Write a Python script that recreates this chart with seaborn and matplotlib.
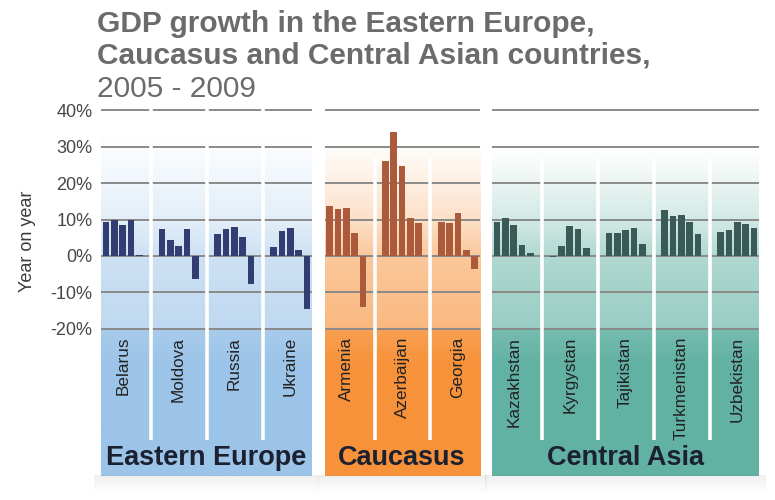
import numpy as np
import pandas as pd
import matplotlib
matplotlib.use("Agg")
import matplotlib.pyplot as plt
from matplotlib.colors import to_rgb
import seaborn as sns

# ---------------------------------------------------------------- data
years = [2005, 2006, 2007, 2008, 2009]
regions = ["Eastern Europe", "Caucasus", "Central Asia"]

eastern_europe = ["Belarus", "Moldova", "Russia", "Ukraine"]
caucasus = ["Armenia", "Azerbaijan", "Georgia"]
central_asia = ["Kazakhstan", "Kyrgystan", "Tajikistan", "Turkmenistan", "Uzbekistan"]

# real GDP growth, % year on year, 2005-2009
belarus = [9.2, 9.8, 8.4, 9.8, 0.2]
moldova = [7.3, 4.4, 2.8, 7.5, -6.4]
russia = [6.1, 7.3, 7.9, 5.3, -7.7]
ukraine = [2.4, 7.0, 7.7, 1.7, -14.7]
armenia = [13.6, 12.9, 13.3, 6.4, -14.1]
azerbaijan = [26.0, 34.1, 24.8, 10.4, 9.0]
georgia = [9.3, 9.1, 11.9, 1.7, -3.7]
kazakhstan = [9.4, 10.4, 8.5, 3.0, 0.9]
kyrgystan = [-0.2, 2.8, 8.3, 7.3, 2.1]
tajikistan = [6.4, 6.4, 7.2, 7.6, 3.2]
turkmenistan = [12.7, 11.0, 11.3, 9.4, 6.0]
uzbekistan = [6.7, 7.2, 9.3, 8.7, 7.8]

y_ticks = [40, 30, 20, 10, 0, -10, -20]
y_tick_labels = ["40%", "30%", "20%", "10%", "0%", "-10%", "-20%"]

# ---------------------------------------------------------------- styling
bar_colors = {"Eastern Europe": "#28377c", "Caucasus": "#bd5229", "Central Asia": "#355f5b"}
panel_colors = {"Eastern Europe": "#9cc4e8", "Caucasus": "#f7923a", "Central Asia": "#62b2a3"}
fade_top = {"Eastern Europe": 33, "Caucasus": 31, "Central Asia": 29}
separator_top = {"Eastern Europe": 42, "Caucasus": 27, "Central Asia": 27}

SLOT = 6.7        # distance between neighbouring countries (in bar steps)
PANEL_GAP = 2.7   # last bar of one region to first bar of the next
Y_TOP, Y_BOTTOM = 42, -60.5

groups = {
    "Eastern Europe": eastern_europe,
    "Caucasus": caucasus,
    "Central Asia": central_asia,
}
series = {
    "Belarus": belarus, "Moldova": moldova, "Russia": russia, "Ukraine": ukraine,
    "Armenia": armenia, "Azerbaijan": azerbaijan, "Georgia": georgia,
    "Kazakhstan": kazakhstan, "Kyrgystan": kyrgystan, "Tajikistan": tajikistan,
    "Turkmenistan": turkmenistan, "Uzbekistan": uzbekistan,
}

# ---------------------------------------------------------------- layout
rows = []
panels = []
origin = 0.0
for region in regions:
    countries = groups[region]
    for k, country in enumerate(countries):
        for j, yr in enumerate(years):
            rows.append({
                "region": region,
                "country": country,
                "year": yr,
                "pos": round(origin + k * SLOT + j, 3),
                "value": series[country][j],
            })
    last = origin + (len(countries) - 1) * SLOT + len(years) - 1
    panels.append((region, origin, last))
    origin = last + PANEL_GAP
df = pd.DataFrame(rows)

sns.set_theme(style="white")
plt.rcParams["font.family"] = ["Liberation Sans", "DejaVu Sans"]

fig = plt.figure(figsize=(7.75, 5.0), dpi=100, facecolor="white")
ax_left, ax_right = 101 / 775, 759 / 775
ax_top, ax_bottom = 1 - 103.1 / 500, 1 - 476.2 / 500
ax = fig.add_axes([ax_left, ax_bottom, ax_right - ax_left, ax_top - ax_bottom])
ax.set_facecolor("white")

# gradient panels behind each region
grid_y = np.linspace(Y_TOP, Y_BOTTOM, 600)
for region, first, last in panels:
    left, right = first - 0.6, last + 0.6
    ft = fade_top[region]
    t = np.interp(-grid_y,
                  [-Y_TOP, -ft, -10, 0, 10, 19.7, 20.6, 30, -Y_BOTTOM],
                  [0.0, 0.0, 0.28, 0.5, 0.58, 0.64, 0.88, 1.0, 1.0])
    c = np.array(to_rgb(panel_colors[region]))
    img = (1 - t[:, None]) * np.ones(3) + t[:, None] * c
    ax.imshow(img[:, None, :], extent=[left, right, Y_BOTTOM, Y_TOP],
              aspect="auto", interpolation="bilinear", zorder=0)
    # soft shadow under the panel
    shadow = np.zeros((30, 1, 4))
    shadow[..., :3] = 0.5
    shadow[:, 0, 3] = np.linspace(0.12, 0.0, 30)
    ax.imshow(shadow, extent=[left - 0.8, right + 0.8, Y_BOTTOM - 5.0, Y_BOTTOM],
              aspect="auto", interpolation="bilinear", zorder=0, clip_on=False)
    ax.hlines(y_ticks, left, right, color="#8a8a8a", lw=1.4, zorder=1)

# bars
sns.barplot(data=df, x="pos", y="value", hue="region", palette=bar_colors,
            hue_order=regions, native_scale=True, dodge=False, width=0.8,
            errorbar=None, legend=False, linewidth=0, ax=ax, zorder=4)

# white separators between countries, country names and region names
for region, first, last in panels:
    countries = groups[region]
    for k, country in enumerate(countries):
        base = first + k * SLOT
        if k > 0:
            ax.vlines(base - 1.3, -50.6, separator_top[region], color="white",
                      lw=2.6, zorder=3)
        ax.text(base + 2, -22.2, country, rotation=90, ha="center", va="top",
                fontsize=12.3, color="#222222", zorder=5)
    ax.text((first + last) / 2, -55.6, region, ha="center", va="center",
            fontsize=19.5, fontweight="bold", color="#1b2130", zorder=5)

ax.set_xlim(panels[0][1] - 0.6, panels[-1][2] + 0.6)
ax.set_ylim(Y_BOTTOM, Y_TOP)
ax.set_yticks(y_ticks, y_tick_labels)
ax.set_xticks([])
ax.tick_params(axis="y", length=0, pad=6, labelsize=13, labelcolor="#474747")
ax.set_xlabel("")
ax.set_ylabel("")
for s in ax.spines.values():
    s.set_visible(False)

fig.text(28 / 775, 1 - 241 / 500, "Year on year", rotation=90, ha="center",
         va="center", fontsize=13, color="#3a3a3a")

title_color = "#6b6b6b"
fig.text(97 / 775, 1 - 32 / 500, "GDP growth in the Eastern Europe,",
         fontsize=21.5, fontweight="bold", color=title_color, va="baseline")
fig.text(97 / 775, 1 - 63 / 500, "Caucasus and Central Asian countries,",
         fontsize=21.5, fontweight="bold", color=title_color, va="baseline")
fig.text(97 / 775, 1 - 97 / 500, "2005 - 2009",
         fontsize=21.5, color=title_color, va="baseline")

fig.savefig("out.png", dpi=100, facecolor="white")
